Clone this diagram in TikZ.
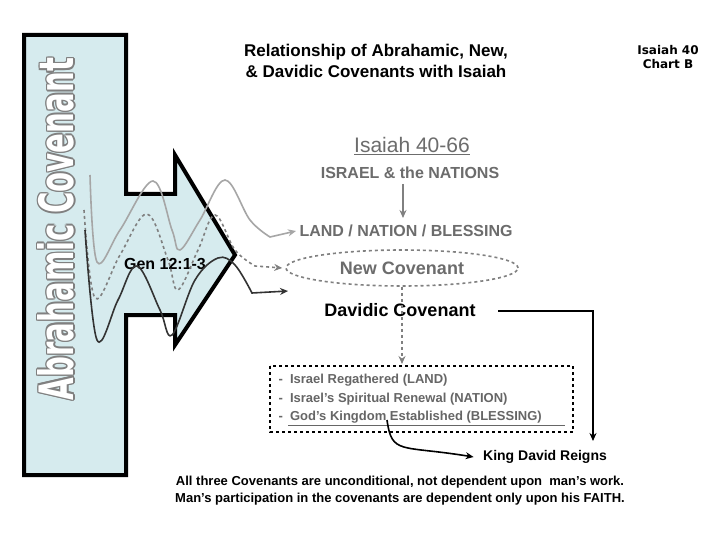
\documentclass[tikz,border=0pt]{standalone}
\usepackage{fontspec}
\setmainfont{Liberation Sans}
\newfontfamily\condfont{DejaVu Sans}
\usetikzlibrary{arrows.meta,shapes.geometric}
\newcommand{\abrtext}{\resizebox{342pt}{36pt}{\condfont\bfseries Abrahamic Covenant}}
\begin{document}
\begin{tikzpicture}[x=1pt,y=-1pt,
  gtxt/.style={text=gray!85!black,font=\bfseries\fontsize{16}{18}\selectfont},
  btxt/.style={font=\bfseries\fontsize{16}{18}\selectfont},
  arr/.style={-{Stealth[length=8pt,width=7pt]},line width=1.6pt},
  item/.style={text=gray!80!black,font=\bfseries\fontsize{13}{15}\selectfont,anchor=west}]
\useasboundingbox (0,0) rectangle (720,540);
\fill[white] (0,0) rectangle (720,540);
% big shape
\draw[line width=4pt,fill={rgb,255:red,214;green,235;blue,238},line join=miter]
 (24,35)--(126,35)--(126,194)--(175,194)--(175,155)--(235,255)--(175,345)--(175,315)--(126,315)--(126,475)--(24,475)--cycle;
% vertical title with gray outline
\foreach \dx/\dy in {1.5/0,-1.5/0,0/1.5,0/-1.5,1.1/1.1,-1.1/1.1,1.1/-1.1,-1.1/-1.1}
  \node[rotate=90,text=gray,inner sep=0] at (56+\dx,229+\dy) {\abrtext};
\node[rotate=90,text=white,inner sep=0] (ac) at (56,229) {\abrtext};
% nodes
\node[btxt] (gen) at (165,264) {Gen 12:1-3};
\node[gtxt,anchor=west] (land) at (296,231) {LAND / NATION / BLESSING};
\node[ellipse,draw=gray,dashed,line width=1.6pt,minimum width=232pt,minimum height=36pt,text=gray!85!black,font=\bfseries\fontsize{18}{20}\selectfont] (nc) at (402,268) {New Covenant};
\node[font=\bfseries\fontsize{18}{20}\selectfont] (dc) at (400,310) {Davidic Covenant};
% curves
\draw[arr,gray!70] plot[smooth,tension=0.6] coordinates {(90,175) (97,262) (120,230) (153,181) (172,230) (180,250) (200,220) (225,180) (250,220) (270,237)} -- (land.west);
\draw[arr,gray,dashed] plot[smooth,tension=0.6] coordinates {(84,210) (95,298) (120,255) (147,214) (168,260) (178,290) (198,250) (215,215) (235,250) (255,266)} -- ([xshift=-3pt]nc.west);
\draw[arr,black!80] plot[smooth,tension=0.6] coordinates {(85,230) (97,340) (118,300) (137,266) (160,310) (172,335) (195,280) (218,258) (235,265) (252,293)} -- (288,291);
% titles
\node[font=\bfseries\fontsize{17}{21}\selectfont,align=center] (title) at (376,61) {Relationship of Abrahamic, New,\\\& Davidic Covenants with Isaiah};
\node[font=\condfont\bfseries\fontsize{12}{14}\selectfont,align=center] (chart) at (668,57) {Isaiah 40\\Chart B};
\node[text=gray!85!black,font=\fontsize{21}{23}\selectfont] (isa) at (412,146) {\underline{Isaiah 40-66}};
\node[gtxt] (isr) at (410,173) {ISRAEL \& the NATIONS};
\draw[arr,gray,line width=1.3pt] (403,184) -- (403,218);
% box
\coordinate (bx1) at (270,366); \coordinate (bx2) at (573,432);
\draw[dashed,line width=1.5pt] (bx1) rectangle (bx2);
\draw[arr,gray,dashed] (nc.south) -- (402,364);
\node[item] (i1) at (275,380) {-\ \ Israel Regathered (LAND)};
\node[item] (i2) at (275,399) {-\ \ Israel’s Spiritual Renewal (NATION)};
\node[item] (i3) at (275,417) {-\ \ God’s Kingdom Established (BLESSING)};
\draw[gray!80!black,line width=0.8pt] (288,425) -- (565,425);
\node[font=\bfseries\fontsize{14}{16}\selectfont] (kd) at (545,457) {King David Reigns};
\draw[arr] (498,311) -- (593,311) -- (593,441);
\draw[arr] (387,420) .. controls (392,455) and (400,445) .. ([xshift=-6pt]kd.west);
\node[font=\bfseries\fontsize{13}{17}\selectfont,align=center] (foot) at (400,491) {All three Covenants are unconditional, not dependent upon\ \ man’s work.\\Man’s participation in the covenants are dependent only upon his FAITH.};
\end{tikzpicture}
\end{document}
